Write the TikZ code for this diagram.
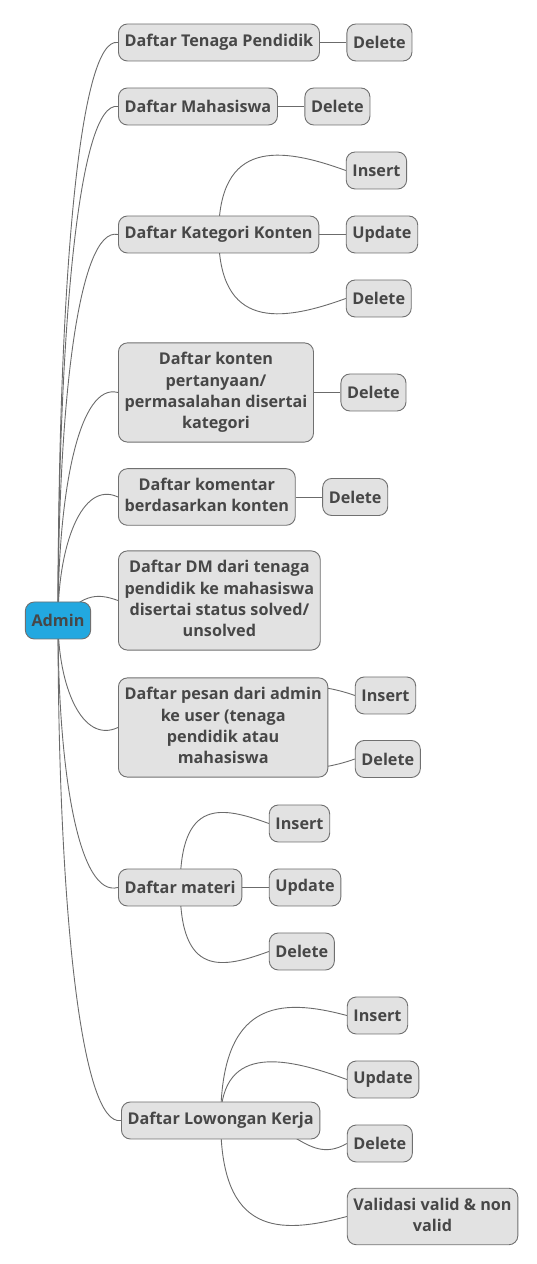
\documentclass[tikz,border=0pt]{standalone}
\usepackage{fontspec}
\setmainfont{Open Sans}
\usepackage{tikz}
\usetikzlibrary{positioning,backgrounds}
\definecolor{boxfill}{HTML}{E2E2E2}
\definecolor{boxline}{HTML}{707070}
\definecolor{boxtext}{HTML}{474747}
\definecolor{rootfill}{HTML}{22A8E0}
\definecolor{linkgray}{HTML}{6B6B6B}
\tikzset{
    %Define style for boxes
    topic/.style={
           rectangle,
           rounded corners=9pt,
           draw=boxline, line width=0.9pt,
           fill=boxfill,
           text=boxtext,
           font=\bfseries\fontsize{16.2}{21.3}\selectfont,
           inner xsep=6.2pt,
           inner ysep=9.5pt,
           minimum height=37pt,
           align=center},
    multi/.style={
           topic,
           execute at end node={\vphantom{g}}},
    root/.style={
           topic,
           fill=rootfill},
    % Define connector style
    link/.style={
           draw=linkgray,
           line width=0.9pt}
}
\begin{document}
\begin{tikzpicture}[x=1pt,y=1pt,node distance=26.5pt]
\useasboundingbox (0,0) rectangle (537,1264);

 %nodes
\node[root] (admin) at (58,643.5) {Admin};
\node[topic, anchor=west] (d1) at (118,1221.5) {Daftar Tenaga Pendidik};
\node[topic, anchor=west] (d2) at (118,1157.5) {Daftar Mahasiswa};
\node[topic, anchor=west] (d3) at (118,1029.5) {Daftar Kategori Konten};
\node[multi, anchor=west] (d4) at (118,871.5) {Daftar konten\\pertanyaan/\\permasalahan disertai\\kategori};
\node[multi, anchor=west] (d5) at (118,767) {Daftar komentar\\berdasarkan konten};
\node[multi, anchor=west] (d6) at (118,663.5) {Daftar DM dari tenaga\\pendidik ke mahasiswa\\disertai status solved/\\unsolved};
\node[multi, anchor=west] (d7) at (118,536.5) {Daftar pesan dari admin\\ke user (tenaga\\pendidik atau\\mahasiswa};
\node[topic, anchor=west] (d8) at (118,376.5) {Daftar materi};
\node[topic, anchor=west] (d9) at (121,143.5) {Daftar Lowongan Kerja};

\node[topic, right=of d1] (d1del) {Delete};
\node[topic, right=of d2] (d2del) {Delete};
\node[topic, right=of d3, yshift=64pt] (d3ins) {Insert};
\node[topic, right=of d3] (d3upd) {Update};
\node[topic, right=of d3, yshift=-64pt] (d3del) {Delete};
\node[topic, right=of d4] (d4del) {Delete};
\node[topic, right=of d5] (d5del) {Delete};
\node[topic, right=of d7, yshift=32pt] (d7ins) {Insert};
\node[topic, right=of d7, yshift=-31.5pt] (d7del) {Delete};
\node[topic, right=of d8, yshift=64pt] (d8ins) {Insert};
\node[topic, right=of d8] (d8upd) {Update};
\node[topic, right=of d8, yshift=-64pt] (d8del) {Delete};
\node[topic, right=of d9, yshift=105pt] (d9ins) {Insert};
\node[topic, right=of d9, yshift=41pt] (d9upd) {Update};
\node[topic, right=of d9, yshift=-23pt] (d9del) {Delete};
\node[multi, right=of d9, yshift=-96pt] (d9val) {Validasi valid \& non\\valid};

 %connectors
\begin{scope}[on background layer, every edge/.style=link]
 \path
    (admin.center) edge[out=90,in=170,out distance=330pt,in distance=40pt] (d1.west)
    (admin.center) edge[out=90,in=170,out distance=290pt,in distance=40pt] (d2.west)
    (admin.center) edge[out=90,in=168,out distance=220pt,in distance=40pt] (d3.west)
    (admin.center) edge[out=90,in=165,out distance=130pt,in distance=40pt] (d4.west)
    (admin.center) edge[out=90,in=155,out distance=75pt,in distance=40pt] (d5.west)
    (admin.center) edge[out=45,in=160,out distance=35pt,in distance=25pt] (d6.west)
    (admin.center) edge[out=270,in=205,out distance=65pt,in distance=40pt] (d7.west)
    (admin.center) edge[out=270,in=195,out distance=155pt,in distance=40pt] (d8.west)
    (admin.center) edge[out=270,in=190,out distance=290pt,in distance=40pt] (d9.west);
 \path
    (d1) edge (d1del)
    (d2) edge (d2del)
    (d3.center) edge[out=90,in=160,out distance=95pt,in distance=70pt] (d3ins.west)
    (d3) edge (d3upd)
    (d3.center) edge[out=270,in=200,out distance=95pt,in distance=70pt] (d3del.west)
    (d4) edge (d4del)
    (d5) edge (d5del)
    (d7.center) edge[out=60,in=160,out distance=60pt,in distance=40pt] (d7ins.west)
    (d7.center) edge[out=300,in=200,out distance=60pt,in distance=40pt] (d7del.west)
    (d8.center) edge[out=90,in=160,out distance=90pt,in distance=50pt] (d8ins.west)
    (d8) edge (d8upd)
    (d8.center) edge[out=270,in=200,out distance=90pt,in distance=50pt] (d8del.west)
    (d9.center) edge[out=90,in=165,out distance=120pt,in distance=70pt] (d9ins.west)
    (d9.center) edge[out=90,in=160,out distance=80pt,in distance=60pt] (d9upd.west)
    (d9.center) edge[out=10,in=210,out distance=70pt,in distance=50pt] (d9del.west)
    (d9.center) edge[out=270,in=195,out distance=115pt,in distance=70pt] (d9val.west);
\end{scope}
\end{tikzpicture}
\end{document}
